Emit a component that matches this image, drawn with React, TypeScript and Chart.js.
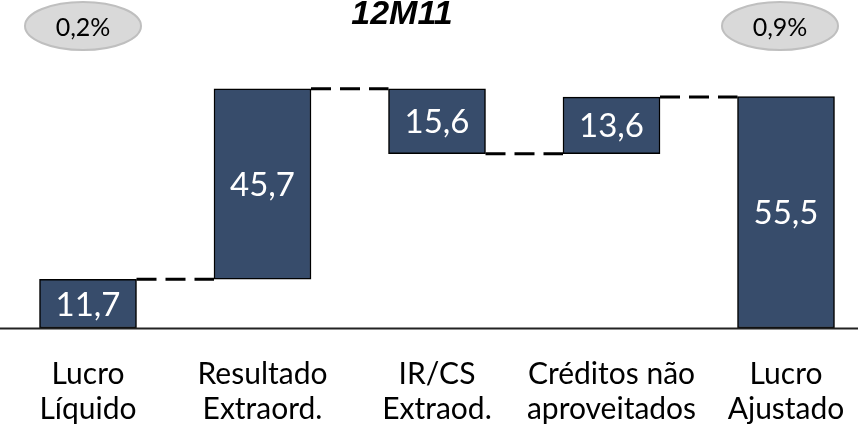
import { useEffect, useRef } from "react";
import { Chart, registerables } from "chart.js";
Chart.register(...registerables);

const categories: string[][] = [
  ["Lucro", "Líquido"],
  ["Resultado", "Extraord."],
  ["IR/CS", "Extraod."],
  ["Créditos não", "aproveitados"],
  ["Lucro", "Ajustado"],
];
const changes = [11.7, 45.7, -15.6, 13.6];
const totalValue = 55.5;
const valueLabels = ["11,7", "45,7", "15,6", "13,6", "55,5"];
const badgeLabels = ["0,2%", "0,9%"];
const titleText = "12M11";

const BAR_COLOR = "#374C6B";

// floating bars built from the changes
const floats: [number, number][] = [];
const levels: number[] = [];
let run = 0;
for (const c of changes) {
  const s = run;
  run += c;
  floats.push([Math.min(s, run), Math.max(s, run)]);
  levels.push(run);
}
floats.push([0, totalValue]);

const overlay = {
  id: "overlay",
  afterDatasetsDraw(chart: any) {
    const { ctx } = chart;
    const xs = chart.scales.x;
    const ys = chart.scales.y;
    const meta = chart.getDatasetMeta(0);
    ctx.save();

    // connectors
    ctx.strokeStyle = "#000";
    ctx.lineWidth = 3;
    ctx.setLineDash([20, 9]);
    for (let i = 0; i < levels.length; i++) {
      const a = meta.data[i];
      const b = meta.data[i + 1];
      const y = ys.getPixelForValue(levels[i]);
      ctx.beginPath();
      ctx.moveTo(a.x + a.width / 2, y);
      ctx.lineTo(b.x - b.width / 2, y);
      ctx.stroke();
    }
    ctx.setLineDash([]);

    // axis line
    const y0 = ys.getPixelForValue(0);
    ctx.strokeStyle = "#222";
    ctx.lineWidth = 2;
    ctx.beginPath();
    ctx.moveTo(0, y0 + 0.5);
    ctx.lineTo(chart.width, y0 + 0.5);
    ctx.stroke();

    // value labels
    ctx.fillStyle = "#fff";
    ctx.font = "33px Lato";
    ctx.textAlign = "center";
    ctx.textBaseline = "alphabetic";
    meta.data.forEach((el: any, i: number) => {
      const yc = (el.y + el.base) / 2;
      ctx.fillText(valueLabels[i], el.x, yc + 12);
    });

    // category labels
    ctx.fillStyle = "#000";
    ctx.font = "30px Lato";
    categories.forEach((lines, i) => {
      const x = xs.getPixelForValue(i);
      lines.forEach((t, j) => ctx.fillText(t, x, 384 + j * 35));
    });

    // title
    ctx.font = "italic bold 34px 'Liberation Sans'";
    ctx.fillText(titleText, 402, 24);

    // badges
    const badgeX = [xs.getPixelForValue(0) - 5, xs.getPixelForValue(categories.length - 1) - 6];
    badgeLabels.forEach((t, i) => {
      const cx = badgeX[i];
      ctx.beginPath();
      ctx.ellipse(cx, 26, 58, 24, 0, 0, Math.PI * 2);
      ctx.fillStyle = "#D9D9D9";
      ctx.fill();
      ctx.strokeStyle = "#BFBFBF";
      ctx.lineWidth = 2;
      ctx.stroke();
      ctx.fillStyle = "#000";
      ctx.font = "25px Lato";
      ctx.fillText(t, cx, 36);
    });

    ctx.restore();
  },
};

export default function App() {
  const ref = useRef<HTMLCanvasElement>(null);
  useEffect(() => {
    if (!ref.current) return;
    const chart = new Chart(ref.current, {
      type: "bar",
      data: {
        labels: categories.map((c) => c.join(" ")),
        datasets: [
          {
            data: floats,
            backgroundColor: BAR_COLOR,
            borderColor: "#000",
            borderWidth: 1.5,
            borderSkipped: false,
            barThickness: 97,
            clip: false,
          },
        ],
      },
      options: {
        responsive: false,
        animation: false,
        layout: { padding: { left: 88, right: 72, top: 0, bottom: 97 } },
        plugins: { legend: { display: false }, tooltip: { enabled: false } },
        scales: {
          x: { display: false, offset: false },
          y: { display: false, min: 0, max: 78.7 },
        },
      },
      plugins: [overlay],
    });
    return () => chart.destroy();
  }, []);
  return (
    <div style={{ position: "fixed", left: 0, top: 0, width: 858, height: 425, background: "#fff" }}>
      <canvas ref={ref} width={858} height={425} />
    </div>
  );
}
